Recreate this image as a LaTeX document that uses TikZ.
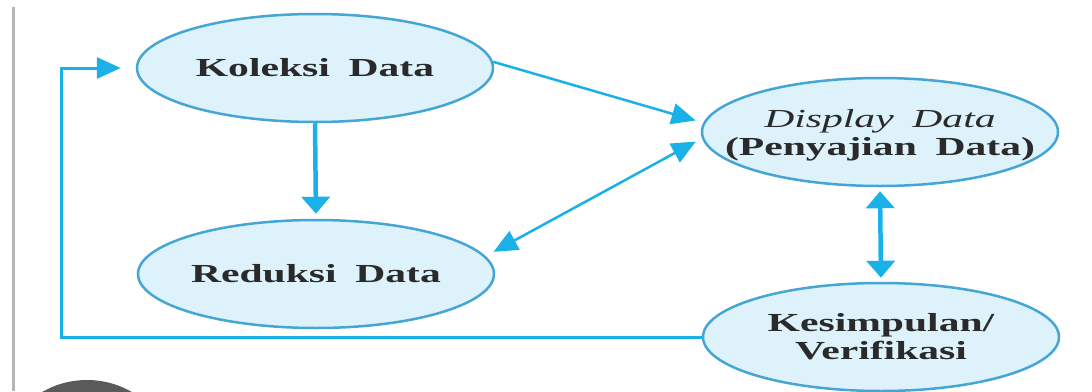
\documentclass[tikz,border=0pt]{standalone}
\usepackage{fontspec}
\setmainfont{Liberation Serif}[FakeStretch=1.6,WordSpace=1.8]
\usetikzlibrary{shapes.geometric,arrows.meta}
\definecolor{ellfill}{HTML}{DDF2FB}
\definecolor{elldraw}{HTML}{45A6D6}
\definecolor{arr}{HTML}{1AB0E8}
\definecolor{txt}{HTML}{2A2A2A}
\definecolor{edge}{HTML}{B4B4B4}
\definecolor{blob}{HTML}{5A5A5A}
\tikzset{>=Stealth,
  bigtip/.tip={Triangle[length=17pt,width=28pt]},
  smalltip/.tip={Triangle[length=24pt,width=21pt]},
  proc/.style={ellipse,draw=elldraw,fill=ellfill,line width=2.5pt,inner sep=0pt,
    minimum width=356pt,minimum height=108pt},
  lbl/.style={text=txt,font=\fontsize{26}{28}\selectfont\bfseries,align=center,inner sep=0pt},
  flow/.style={draw=arr,line width=2.5pt,-smalltip},
  mainflow/.style={draw=arr,line width=4.5pt,-bigtip}}

\begin{document}
\begin{tikzpicture}[x=1pt,y=-1pt]
\useasboundingbox (0,0) rectangle (1092,391);
\clip (0,0) rectangle (1092,391);
\draw[edge,line width=3pt] (13,7) -- (13,391);
\fill[blob] (87,470) circle (90pt);
\node[proc,label={[lbl]center:Koleksi Data}] (koleksi) at (315,68) {};
\node[proc,label={[lbl]center:Reduksi Data}] (reduksi) at (316,274) {};
\node[proc,label={[lbl,yshift=-3pt]center:{{\mdseries\itshape Display Data}\\(Penyajian Data)}}] (display) at (880,132) {};
\node[proc,label={[lbl]center:{Kesimpulan/\\Verifikasi}}] (kesimpulan) at (881,337) {};
\coordinate (loop) at (61,68);
\draw[mainflow,shorten >=5pt] (koleksi.south) -- (reduksi.north);
\draw[mainflow,bigtip-bigtip,shorten >=4pt,shorten <=4pt] (display.south) -- (kesimpulan.north);
\draw[flow,shorten >=8pt] (koleksi.2) -- (display.177);
\draw[flow,smalltip-smalltip,shorten >=9pt,shorten <=7pt] (display.182) -- (reduksi.6);
\draw[flow,line width=3pt,shorten >=15pt] (kesimpulan.west) -| (loop) -- (koleksi.west);
\end{tikzpicture}
\end{document}
